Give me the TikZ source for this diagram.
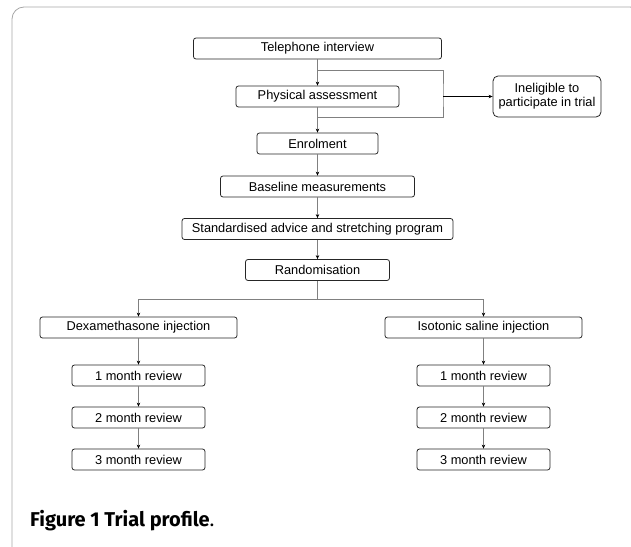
\documentclass[tikz,border=0pt]{standalone}
\usepackage{fontspec}
\setmainfont{Liberation Sans}
\newfontfamily\capfont{Fira Sans}
\usetikzlibrary{arrows.meta}

\begin{document}
\begin{tikzpicture}[x=1pt,y=-1pt,
        box/.style={draw=black!85, rounded corners=2.5pt, line width=0.8pt, minimum height=21pt, inner sep=0pt, font=\fontsize{12.8}{14}\selectfont},
        link/.style={draw=gray, line width=0.8pt, -{Stealth[length=4pt,width=3.5pt,black]}},
        wire/.style={draw=gray, line width=0.8pt}]
        \useasboundingbox (0,0) rectangle (631,546);
        \begin{scope}
            \clip (0,0) rectangle (631,546);
            \draw[gray!70, line width=0.8pt, rounded corners=12pt] (12,7) rectangle (642,560);
        \end{scope}

        \node[box, minimum width=248pt] (tel) at (317.5,48.5) {Telephone interview};
        \node[box, minimum width=163pt] (phys) at (317.5,96.5) {Physical assessment};
        \node[box, minimum width=121pt] (enrol) at (317.5,143.5) {Enrolment};
        \node[box, minimum width=194pt] (base) at (317.5,186.5) {Baseline measurements};
        \node[box, minimum width=271pt] (std) at (317.5,229) {Standardised advice and stretching program};
        \node[box, minimum width=144pt] (rand) at (317.5,270) {Randomisation};
        \node[box, minimum width=108pt, minimum height=41pt, rounded corners=5pt, align=center] (inel) at (547,96.5) {Ineligible to\\participate in trial};

        \node[box, minimum width=197pt] (dex) at (138.5,327.5) {Dexamethasone injection};
        \node[box, minimum width=197pt] (iso) at (483.5,327.5) {Isotonic saline injection};
        \foreach \s/\x in {l/138.5, r/483.5} {
            \node[box, minimum width=133pt] (\s1) at (\x,375.5) {1 month review};
            \node[box, minimum width=133pt] (\s2) at (\x,417.5) {2 month review};
            \node[box, minimum width=133pt] (\s3) at (\x,459.5) {3 month review};
        }

        % screening loop
        \coordinate (jtop) at (317.5,70);
        \coordinate (jbot) at (317.5,117);
        \coordinate (jr) at (443,96.5);
        \coordinate (split) at (317.5,299);

        \draw[link] (tel) -- (phys);
        \draw[wire] (jtop) -| (jr) |- (jbot);
        \draw[link, draw=black] (jr) -- (inel);
        \draw[link] (phys) -- (enrol);
        \draw[link] (enrol) -- (base);
        \draw[link] (base) -- (std);
        \draw[link] (std) -- (rand);
        \draw[wire] (rand) -- (split);
        \draw[link] (split) -| (dex);
        \draw[link] (split) -| (iso);

        \draw[link] (dex) -- (l1);
        \draw[link] (l1) -- (l2);
        \draw[link] (l2) -- (l3);
        \draw[link] (iso) -- (r1);
        \draw[link] (r1) -- (r2);
        \draw[link] (r2) -- (r3);

        \node[anchor=base west, inner sep=0pt, font=\capfont\fontsize{20}{22}\selectfont] (cap) at (30,526) {\textbf{Figure 1 Trial profile}.};
    \end{tikzpicture}
\end{document}
